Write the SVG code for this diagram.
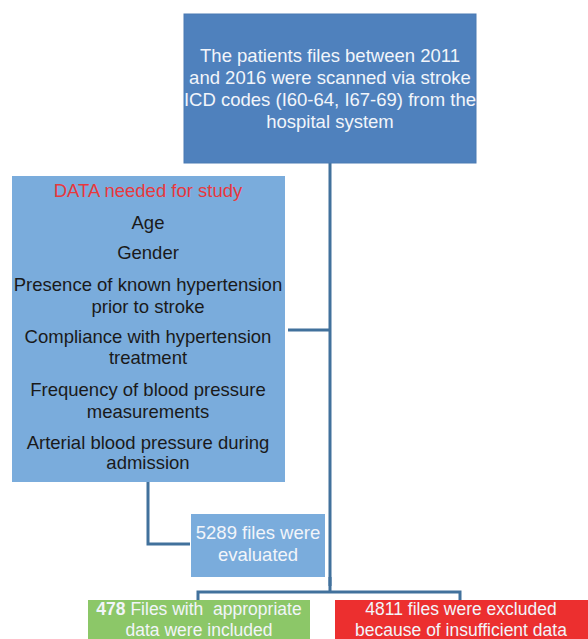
<svg xmlns="http://www.w3.org/2000/svg" width="588" height="639" viewBox="0 0 588 639">
<style>
text{font-family:"Liberation Sans",Arial,sans-serif;font-size:18.5px;text-anchor:middle}
.w{fill:#f2f5fa}
.k{fill:#1a1a1a}
.b{font-size:17.5px}
.conn{fill:none;stroke:#41719c;stroke-width:3}
</style>
<rect width="588" height="639" fill="#ffffff"/>
<g id="connectors">
<path class="conn" d="M330 163 V586"/>
<path class="conn" d="M288 330 H330"/>
<path class="conn" d="M148 482 V544 H190"/>
<path class="conn" d="M330 577 V592 M198 600 V592 H460 V600"/>
</g>
<g id="n_scan">
<rect x="184" y="14" width="292" height="149" fill="#4f81bd" stroke="#4a7ab3" stroke-width="1"/>
<text class="w" x="330" y="62">The patients files between 2011</text>
<text class="w" x="330" y="84">and 2016 were scanned via stroke</text>
<text class="w" x="330" y="106">ICD codes (I60-64, I67-69) from the</text>
<text class="w" x="330" y="128">hospital system</text>
</g>
<g id="n_data">
<rect x="12" y="176" width="273" height="306" fill="#7aacdc"/>
<text x="148" y="197" fill="#e8383d">DATA needed for study</text>
<text class="k" x="148" y="229">Age</text>
<text class="k" x="148" y="259">Gender</text>
<text class="k" x="148" y="291">Presence of known hypertension</text>
<text class="k" x="148" y="313">prior to stroke</text>
<text class="k" x="148" y="343">Compliance with hypertension</text>
<text class="k" x="148" y="364">treatment</text>
<text class="k" x="148" y="396">Frequency of blood pressure</text>
<text class="k" x="148" y="418">measurements</text>
<text class="k" x="148" y="449">Arterial blood pressure during</text>
<text class="k" x="148" y="469">admission</text>
</g>
<g id="n_eval">
<rect x="191" y="514" width="134" height="63" fill="#7aacdc"/>
<text class="w" x="258" y="539">5289 files were</text>
<text class="w" x="258" y="561">evaluated</text>
</g>
<g id="n_incl">
<rect x="88" y="600" width="222" height="39" fill="#8cc768"/>
<text class="w b" x="199" y="615"><tspan font-weight="bold">478</tspan> Files with &#160;appropriate</text>
<text class="w b" x="199" y="636">data were included</text>
</g>
<g id="n_excl">
<rect x="335" y="600" width="253" height="39" fill="#ec2f2f"/>
<text class="w b" x="461" y="615">4811 files were excluded</text>
<text class="w b" x="461" y="636">because of insufficient data</text>
</g>
</svg>
